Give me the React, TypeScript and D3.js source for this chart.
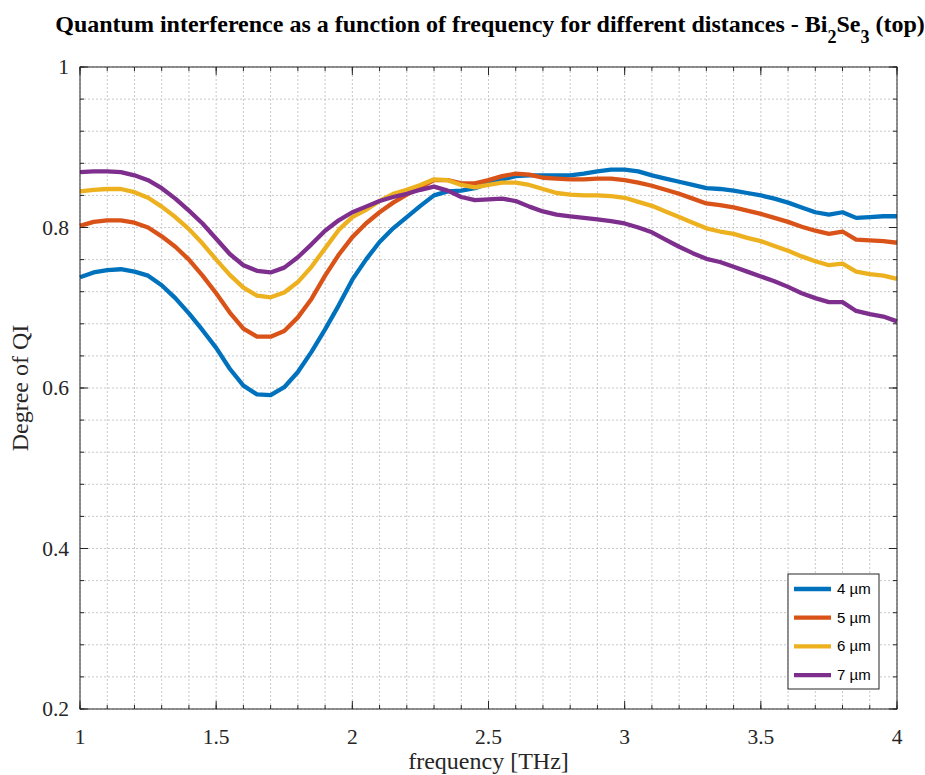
import React from "react";
import * as d3 from "d3";

const frequency: number[] = d3.range(61).map((i) => +(1 + i * 0.05).toFixed(2));

const qi4: number[] = [
  0.738, 0.744, 0.747, 0.748, 0.745, 0.740, 0.728, 0.712, 0.693, 0.672,
  0.650, 0.624, 0.603, 0.592, 0.591, 0.601, 0.620, 0.645, 0.673, 0.703,
  0.735, 0.760, 0.782, 0.799, 0.813, 0.827, 0.840, 0.845, 0.846, 0.849,
  0.855, 0.860, 0.864, 0.865, 0.865, 0.865, 0.865, 0.867, 0.870, 0.872,
  0.872, 0.870, 0.865, 0.861, 0.857, 0.853, 0.849, 0.848, 0.846, 0.843,
  0.840, 0.836, 0.831, 0.825, 0.819, 0.816, 0.819, 0.812, 0.813, 0.814,
  0.814,
];
const qi5: number[] = [
  0.802, 0.807, 0.809, 0.809, 0.806, 0.800, 0.789, 0.776, 0.760, 0.740,
  0.718, 0.694, 0.674, 0.664, 0.664, 0.671, 0.688, 0.711, 0.740, 0.766,
  0.788, 0.805, 0.819, 0.831, 0.841, 0.850, 0.859, 0.859, 0.855, 0.855,
  0.859, 0.864, 0.867, 0.866, 0.862, 0.861, 0.860, 0.860, 0.861, 0.861,
  0.859, 0.856, 0.852, 0.847, 0.842, 0.836, 0.830, 0.828, 0.825, 0.821,
  0.817, 0.812, 0.807, 0.801, 0.796, 0.792, 0.795, 0.785, 0.784, 0.783,
  0.781,
];
const qi6: number[] = [
  0.845, 0.847, 0.848, 0.848, 0.844, 0.837, 0.826, 0.813, 0.798, 0.780,
  0.760, 0.741, 0.725, 0.715, 0.713, 0.719, 0.732, 0.751, 0.774, 0.797,
  0.813, 0.822, 0.833, 0.842, 0.847, 0.853, 0.860, 0.859, 0.853, 0.850,
  0.853, 0.856, 0.856, 0.853, 0.848, 0.843, 0.841, 0.840, 0.840, 0.839,
  0.837, 0.832, 0.827, 0.820, 0.813, 0.806, 0.799, 0.795, 0.792, 0.787,
  0.783, 0.777, 0.771, 0.764, 0.758, 0.753, 0.755, 0.745, 0.742, 0.740,
  0.736,
];
const qi7: number[] = [
  0.869, 0.870, 0.870, 0.869, 0.865, 0.859, 0.849, 0.836, 0.821, 0.805,
  0.786, 0.767, 0.753, 0.746, 0.744, 0.750, 0.763, 0.779, 0.796, 0.809,
  0.819, 0.826, 0.833, 0.838, 0.842, 0.847, 0.851, 0.846, 0.838, 0.834,
  0.835, 0.836, 0.833, 0.826, 0.820, 0.816, 0.814, 0.812, 0.810, 0.808,
  0.805, 0.800, 0.794, 0.785, 0.776, 0.768, 0.761, 0.757, 0.751, 0.745,
  0.739, 0.733, 0.726, 0.718, 0.712, 0.707, 0.707, 0.696, 0.692, 0.689,
  0.683,
];

const seriesNames: string[] = ["4 µm", "5 µm", "6 µm", "7 µm"];
const seriesValues: number[][] = [qi4, qi5, qi6, qi7];
const seriesColors: string[] = ["#0072BD", "#D95319", "#EDB120", "#7E2F8E"];

const xTicks: number[] = [1, 1.5, 2, 2.5, 3, 3.5, 4];
const yTicks: number[] = [0.2, 0.4, 0.6, 0.8, 1];
const xMinor: number[] = d3.range(31).map((i) => +(1 + i * 0.1).toFixed(2));
const yMinor: number[] = d3.range(21).map((i) => +(0.2 + i * 0.04).toFixed(2));

export default function App() {
  const W = 925;
  const H = 775;
  const left = 80;
  const right = 897;
  const top = 67;
  const bottom = 709;

  const x = d3.scaleLinear().domain([1, 4]).range([left, right]);
  const y = d3.scaleLinear().domain([0.2, 1]).range([bottom, top]);

  const line = d3
    .line<number>()
    .x((_, i) => x(frequency[i]))
    .y((d) => y(d));

  const serif = "'Liberation Serif', 'Times New Roman', serif";
  const sans = "'Liberation Sans', Arial, sans-serif";

  const lgX = 788;
  const lgY = 574;
  const lgW = 91;
  const lgH = 115;

  return (
    <svg
      width={W}
      height={H}
      style={{ position: "absolute", left: 0, top: 0, background: "#fff" }}
    >
      <rect x={0} y={0} width={W} height={H} fill="#fff" />
      {/* minor grid */}
      {xMinor.map((v) => (
        <line
          key={"xm" + v}
          x1={x(v)}
          x2={x(v)}
          y1={top}
          y2={bottom}
          stroke="#c8c8c8"
          strokeWidth={1}
          strokeDasharray="2,2"
        />
      ))}
      {yMinor.map((v) => (
        <line
          key={"ym" + v}
          x1={left}
          x2={right}
          y1={y(v)}
          y2={y(v)}
          stroke="#c8c8c8"
          strokeWidth={1}
          strokeDasharray="2,2"
        />
      ))}
      {/* series */}
      {seriesValues.map((vals, k) => (
        <path
          key={seriesNames[k]}
          d={line(vals) || ""}
          fill="none"
          stroke={seriesColors[k]}
          strokeWidth={4.3}
          strokeLinejoin="round"
        />
      ))}
      {/* box */}
      <rect
        x={left}
        y={top}
        width={right - left}
        height={bottom - top}
        fill="none"
        stroke="#262626"
        strokeWidth={1}
      />
      {/* ticks */}
      {xTicks.map((v) => (
        <g key={"xt" + v}>
          <line x1={x(v)} x2={x(v)} y1={bottom} y2={bottom - 8} stroke="#262626" />
          <line x1={x(v)} x2={x(v)} y1={top} y2={top + 8} stroke="#262626" />
          <text
            x={x(v)}
            y={bottom + 35}
            textAnchor="middle"
            fontFamily={serif}
            fontSize={21.5}
            fill="#262626"
          >
            {String(v)}
          </text>
        </g>
      ))}
      {xMinor.map((v) => (
        <g key={"xmt" + v}>
          <line x1={x(v)} x2={x(v)} y1={bottom} y2={bottom - 4} stroke="#262626" />
          <line x1={x(v)} x2={x(v)} y1={top} y2={top + 4} stroke="#262626" />
        </g>
      ))}
      {yTicks.map((v) => (
        <g key={"yt" + v}>
          <line x1={left} x2={left + 8} y1={y(v)} y2={y(v)} stroke="#262626" />
          <line x1={right} x2={right - 8} y1={y(v)} y2={y(v)} stroke="#262626" />
          <text
            x={left - 11}
            y={y(v) + 7}
            textAnchor="end"
            fontFamily={serif}
            fontSize={21.5}
            fill="#262626"
          >
            {String(v)}
          </text>
        </g>
      ))}
      {yMinor.map((v) => (
        <g key={"ymt" + v}>
          <line x1={left} x2={left + 4} y1={y(v)} y2={y(v)} stroke="#262626" />
          <line x1={right} x2={right - 4} y1={y(v)} y2={y(v)} stroke="#262626" />
        </g>
      ))}
      {/* axis labels */}
      <text
        x={(left + right) / 2}
        y={769}
        textAnchor="middle"
        fontFamily={serif}
        fontSize={24}
        fill="#262626"
      >
        frequency [THz]
      </text>
      <text
        transform={`translate(28, ${(top + bottom) / 2}) rotate(-90)`}
        textAnchor="middle"
        fontFamily={serif}
        fontSize={24}
        fill="#262626"
      >
        Degree of QI
      </text>
      {/* title */}
      <text
        x={490}
        y={32}
        textAnchor="middle"
        fontFamily={serif}
        fontWeight="bold"
        fontSize={24}
        fill="#000"
      >
        Quantum interference as a function of frequency for different distances - Bi
        <tspan fontSize={18} dy={11}>2</tspan>
        <tspan dy={-11}>Se</tspan>
        <tspan fontSize={18} dy={11}>3</tspan>
        <tspan dy={-11}> (top)</tspan>
      </text>
      {/* legend */}
      <rect
        x={lgX}
        y={lgY}
        width={lgW}
        height={lgH}
        fill="#fff"
        stroke="#262626"
        strokeWidth={1}
      />
      {seriesNames.map((name, k) => {
        const cy = lgY + 15 + k * 28.7;
        return (
          <g key={"lg" + name}>
            <line
              x1={lgX + 6}
              x2={lgX + 43}
              y1={cy}
              y2={cy}
              stroke={seriesColors[k]}
              strokeWidth={4.3}
            />
            <text
              x={lgX + 49}
              y={cy + 5}
              fontFamily={sans}
              fontSize={15}
              fill="#000"
            >
              {name}
            </text>
          </g>
        );
      })}
    </svg>
  );
}
